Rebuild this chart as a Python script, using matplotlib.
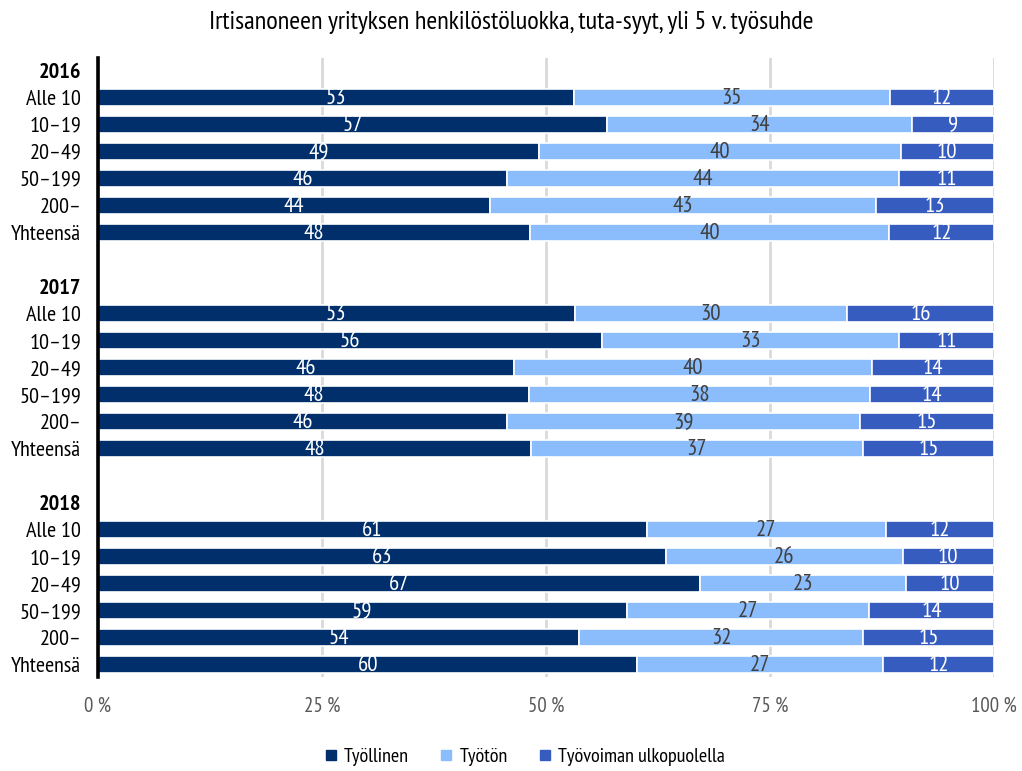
import matplotlib
matplotlib.use("Agg")
import matplotlib.pyplot as plt
from matplotlib.lines import Line2D
import numpy as np

plt.rcParams['font.family'] = ['PT Sans Narrow', 'DejaVu Sans']

title = "Irtisanoneen yrityksen henkilöstöluokka, tuta-syyt, yli 5 v. työsuhde"
years = ["2016", "2017", "2018"]
classes = ["Alle 10", "10\u201319", "20\u201349", "50\u2013199", "200\u2013", "Yhteensä"]
series = ["Työllinen", "Työtön", "Työvoiman ulkopuolella"]
colors = ["#002f6c", "#8bbcfc", "#375cbf"]
label_colors = ["white", "#404040", "white"]

# shares (%) per year, rows = classes
tyollinen = [[53.1, 56.8, 49.2, 45.6, 43.8, 48.2],
             [53.2, 56.2, 46.4, 48.1, 45.7, 48.3],
             [61.3, 63.4, 67.2, 59.0, 53.7, 60.2]]
tyoton = [[35.3, 34.0, 40.4, 43.8, 43.0, 40.1],
          [30.4, 33.2, 40.0, 38.1, 39.3, 37.1],
          [26.6, 26.4, 23.0, 27.1, 31.7, 27.4]]
ulkopuolella = [[11.6, 9.2, 10.4, 10.6, 13.2, 11.7],
                [16.4, 10.6, 13.6, 13.8, 15.0, 14.6],
                [12.1, 10.2, 9.8, 13.9, 14.6, 12.4]]

fig = plt.figure(figsize=(10.22, 7.71), dpi=100)
ax = fig.add_axes([98 / 1022, 1 - 677 / 771, 896 / 1022, 619 / 771])

ypos = []
ylabels = []
for g, year in enumerate(years):
    ypos.append(g * 8)
    ylabels.append(year)
    vals = [tyollinen[g], tyoton[g], ulkopuolella[g]]
    rows = np.arange(1, 7) + g * 8
    left = np.zeros(6)
    for s in range(3):
        w = np.array(vals[s])
        ax.barh(rows, w, left=left, height=0.64, color=colors[s],
                edgecolor="white", linewidth=1.2, zorder=3)
        for r, l, v in zip(rows, left, w):
            ax.text(l + v / 2, r + 0.03, str(int(round(v))), ha="center", va="center",
                    color=label_colors[s], fontsize=16.5, zorder=4)
        left = left + w
    for r, c in zip(rows, classes):
        ypos.append(r)
        ylabels.append(c)

ax.set_xlim(0, 100)
ax.set_ylim(22.45, -0.45)
ax.set_yticks(ypos)
ax.set_yticklabels(ylabels, fontsize=16)
for t in ax.get_yticklabels():
    if t.get_text() in years:
        t.set_fontweight("bold")
ax.tick_params(axis="y", length=0, pad=12)

ax.set_xticks([0, 25, 50, 75, 100])
ax.set_xticklabels(["0 %", "25 %", "50 %", "75 %", "100 %"], fontsize=15, color="#595959")
ax.tick_params(axis="x", length=0, pad=14)
ax.grid(axis="x", color="#d9d9d9", linewidth=2, zorder=0)
ax.set_axisbelow(True)

for side in ["top", "right", "bottom"]:
    ax.spines[side].set_visible(False)
ax.spines["left"].set_linewidth(2.6)
ax.spines["left"].set_color("black")
ax.spines["left"].set_zorder(5)

fig.text(0.5, 1 - 23 / 771, title, ha="center", va="center", fontsize=19)

handles = [Line2D([], [], marker="s", linestyle="", color=c, markersize=7.5) for c in colors]
fig.legend(handles, series, loc="center", bbox_to_anchor=(523 / 1022, 1 - 757 / 771),
           ncol=3, frameon=False, fontsize=14.5, handletextpad=0.15, columnspacing=1.35,
           handlelength=1.0)

fig.savefig("out.png")
